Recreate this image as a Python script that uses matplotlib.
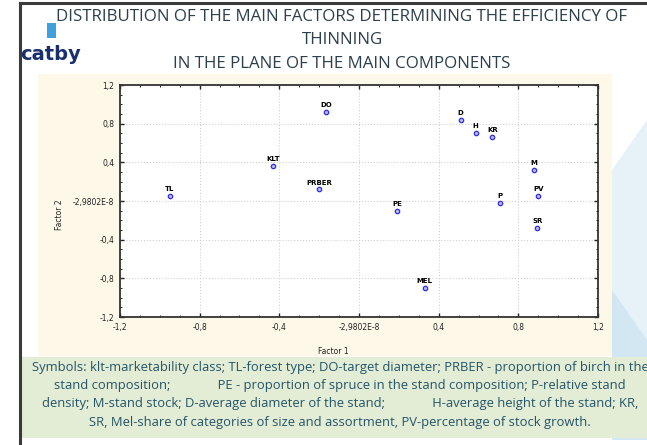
import matplotlib.pyplot as plt
from matplotlib.patches import Rectangle, Polygon
from matplotlib.ticker import FixedLocator, MultipleLocator

# factor loadings on the first two principal components
names = ["TL", "KLT", "DO", "PRBER", "PE", "MEL", "D", "H", "KR", "P", "M", "PV", "SR"]
factor1 = [-0.95, -0.43, -0.165, -0.20, 0.19, 0.33, 0.51, 0.585, 0.67, 0.71, 0.88, 0.90, 0.895]
factor2 = [0.05, 0.36, 0.92, 0.12, -0.10, -0.90, 0.84, 0.70, 0.66, -0.02, 0.32, 0.055, -0.28]

tick_values = [-1.2, -0.8, -0.4, 0.0, 0.4, 0.8, 1.2]
x_tick_labels = ["-1,2", "-0,8", "-0,4", "-2,9802E-8", "0,4", "0,8", "1,2"]
y_tick_labels = ["-1,2", "-0,8", "-0,4", "-2,9802E-8", "0,4", "0,8", "1,2"]

title_lines = [
    "DISTRIBUTION OF THE MAIN FACTORS DETERMINING THE EFFICIENCY OF",
    "THINNING",
    "IN THE PLANE OF THE MAIN COMPONENTS",
]
legend_lines = [
    "Symbols: klt-marketability class; TL-forest type; DO-target diameter; PRBER - proportion of birch in the",
    "stand composition;              PE - proportion of spruce in the stand composition; P-relative stand",
    "density; M-stand stock; D-average diameter of the stand;              H-average height of the stand; KR,",
    "SR, Mel-share of categories of size and assortment, PV-percentage of stock growth.",
]

W, H = 647, 445
fig = plt.figure(figsize=(W / 100, H / 100), dpi=100)
fig.patch.set_facecolor("white")


def fx(px):
    return px / W


def fy(py):
    return 1 - py / H


# slide frame
fig.add_artist(plt.Line2D([fx(20), fx(20)], [0, fy(3)], color="#3a3a3a", lw=2.2))
fig.add_artist(plt.Line2D([fx(20), 1], [fy(3), fy(3)], color="#3a3a3a", lw=2.2))

# decorative blue shapes on the right
fig.add_artist(Polygon([(fx(612), fy(440)), (1, fy(440)), (1, fy(120)), (fx(612), fy(170))],
                       closed=True, facecolor="#e6f2f8", edgecolor="none", zorder=-2))
fig.add_artist(Polygon([(fx(612), fy(440)), (1, fy(440)), (1, fy(340)), (fx(612), fy(290))],
                       closed=True, facecolor="#d2e7f2", edgecolor="none", zorder=-2))

# cream panel behind the chart
fig.add_artist(Rectangle((fx(38), fy(356)), fx(612 - 38), (356 - 74) / H,
                         facecolor="#fdf8e8", edgecolor="none", zorder=-1))

# green caption box
fig.add_artist(Rectangle((fx(22), fy(438)), fx(W - 22), (438 - 357) / H,
                         facecolor="#e3edd6", edgecolor="none", zorder=-1))

# logo
fig.add_artist(Rectangle((fx(47), fy(38)), fx(9), 15 / H, facecolor="#3fa0dc", edgecolor="none"))
fig.text(fx(51), fy(54), "catby", fontsize=14, fontweight="bold", color="#1a2f6e",
         family="Liberation Sans Narrow", ha="center", va="center")

# title
for i, line in enumerate(title_lines):
    fig.text(fx(342), fy(17 + i * 23.5), line, ha="center", va="center",
             fontsize=12.2, color="#2c3f4c", family="Open Sans")

# caption text
for i, line in enumerate(legend_lines):
    fig.text(fx(340), fy(367 + i * 18.5), line, ha="center", va="center",
             fontsize=9.4, color="#245468", family="Open Sans")

ax = fig.add_axes([fx(120), fy(317), fx(598 - 120), (317 - 85) / H])
ax.set_facecolor("white")

ax.scatter(factor1, factor2, s=10, marker="o", facecolor="#b8b8ff",
           edgecolor="#2e2ee0", linewidths=0.9, zorder=3)
for name, x, y in zip(names, factor1, factor2):
    ax.text(x, y + 0.04, name, ha="center", va="bottom", fontsize=5,
            fontweight="bold", color="black", zorder=4)

ax.set_xlim(-1.2, 1.2)
ax.set_ylim(-1.2, 1.2)
ax.xaxis.set_major_locator(FixedLocator(tick_values))
ax.yaxis.set_major_locator(FixedLocator(tick_values))
ax.set_xticklabels(x_tick_labels)
ax.set_yticklabels(y_tick_labels)
ax.xaxis.set_minor_locator(MultipleLocator(0.1))
ax.yaxis.set_minor_locator(MultipleLocator(0.1))
ax.tick_params(which="both", direction="in", top=True, right=True, color="#222222")
ax.tick_params(which="major", length=3, width=1, labelsize=5.5, labelcolor="#222222", pad=4)
ax.tick_params(which="minor", length=1.5, width=0.7)
for lbl in ax.get_xticklabels() + ax.get_yticklabels():
    lbl.set_family("Liberation Sans Narrow")

ax.grid(True, which="major", color="#d0d0d0", linestyle=":", linewidth=0.8)
ax.set_axisbelow(True)
for sp in ax.spines.values():
    sp.set_linewidth(1.3)
    sp.set_color("#333333")

fig.text(fx(333), fy(351), "Factor 1", fontsize=5.5, color="#222222",
         family="Liberation Sans Narrow", ha="center", va="center")
fig.text(fx(59), fy(215), "Factor 2", fontsize=5.5, color="#222222", rotation=90,
         family="Liberation Sans Narrow", ha="center", va="center")

fig.savefig("out.png", dpi=100, facecolor=fig.get_facecolor())
